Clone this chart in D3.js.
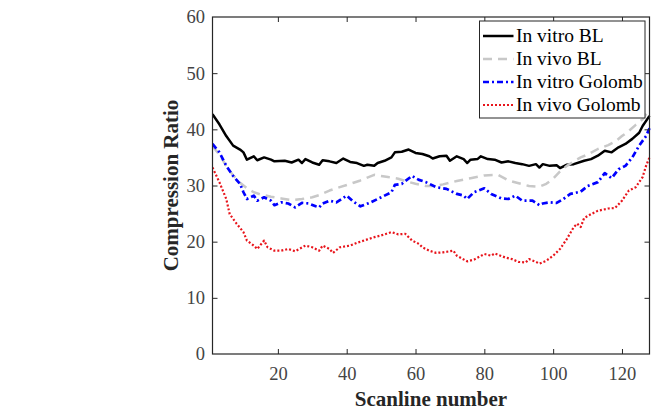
<!DOCTYPE html>
<html>
<head>
<meta charset="utf-8">
<script src="https://cdn.jsdelivr.net/npm/d3@7"></script>
<style>
  html, body { margin: 0; padding: 0; background: #fff; }
  svg { display: block; }
</style>
</head>
<body>
<svg id="chart" width="657" height="418"></svg>
<script>
// ---------- data ----------
const seriesNames = ["In vitro BL", "In vivo BL", "In vitro Golomb", "In vivo Golomb"];

const xTicks = [20, 40, 60, 80, 100, 120];
const yTicks = [0, 10, 20, 30, 40, 50, 60];

const vitroBLScan = [1,3,5,7,9,10,11,13,14,16,18,19,22,24,26,27,28,30,32,33,35,37,39,41,43,45,46,48,49,51,53,54,56,58,60,62,64,65,67,69,70,72,74,75,76,78,79,81,83,85,87,89,91,93,95,96,97,99,101,102,104,106,109,111,113,115,117,119,121,123,125,126,128];
const vitroBLVal  = [42.7,40.9,38.8,37.1,36.4,35.9,34.6,35.2,34.5,35.0,34.6,34.3,34.4,34.1,34.6,34.0,34.7,34.1,33.7,34.5,34.3,34.0,34.8,34.2,34.0,33.5,33.7,33.5,34.0,34.4,35.0,35.9,36.0,36.4,35.8,35.6,35.2,34.8,35.2,35.3,34.4,35.2,34.7,34.0,34.6,34.7,35.2,34.7,34.6,34.1,34.3,34.0,33.8,33.5,33.8,33.2,33.8,33.5,33.6,33.1,33.7,33.8,34.4,34.7,35.3,36.2,35.9,36.8,37.4,38.3,39.4,40.6,42.4];

const vivoBLScan = [1,3,5,7,9,11,13,15,18,21,24,27,30,32,35,38,40,42,44,46,48,50,52,55,57,60,63,65,68,72,76,80,84,87,90,93,96,98,100,102,104,106,108,110,113,116,118,120,122,124,126,128];
const vivoBLVal  = [37.0,35.5,33.5,31.8,30.5,29.5,28.8,28.4,28.0,27.7,27.4,27.6,27.9,28.3,29.1,29.7,30.1,30.5,30.9,31.4,31.9,31.7,31.5,31.2,30.8,30.3,29.9,29.9,30.2,30.8,31.3,31.8,31.9,30.9,30.4,29.9,29.8,30.3,31.2,32.5,33.5,34.3,35.0,35.5,36.5,37.2,37.8,38.8,39.7,40.8,41.8,43.6];

const vitroGolScan = [1,3,5,7,9,10,11,13,14,16,18,19,21,23,25,27,29,31,32,33,35,37,40,42,44,47,49,51,53,54,56,59,61,63,66,69,72,74,75,77,80,82,85,87,89,91,94,96,97,99,101,103,105,108,110,113,115,117,119,121,123,125,127,128];
const vitroGolVal  = [37.4,35.9,33.5,31.7,30.3,28.8,27.6,28.2,27.3,27.9,27.3,26.5,27.0,26.8,26.1,26.9,26.8,26.3,26.1,26.8,27.3,27.0,28.2,27.1,26.3,27.0,27.6,28.2,28.8,30.1,30.3,31.7,31.0,30.6,29.7,29.4,28.5,28.2,27.6,28.8,29.5,28.5,27.7,27.6,28.2,27.3,27.3,26.5,26.8,27.0,26.9,27.6,28.5,28.9,29.9,30.6,32.2,31.3,32.9,33.5,35.0,37.1,38.8,40.2];

const vivoGolScan = [1,3,5,6,8,10,11,13,14,16,17,19,21,23,25,28,30,32,33,35,36,38,41,43,46,48,50,53,55,57,59,61,62,64,66,68,71,72,75,77,80,82,83,86,88,90,92,93,95,96,98,100,102,104,106,107,108,109,111,113,116,118,120,122,124,126,127,128];
const vivoGolVal  = [33.2,30.6,27.6,24.9,23.2,21.7,20.2,19.3,18.7,20.2,19.0,18.4,18.4,18.7,18.3,19.3,19.0,18.4,19.3,18.7,18.0,19.0,19.3,19.8,20.4,20.8,21.1,21.7,21.3,21.4,20.2,19.6,19.0,18.4,18.0,18.1,18.4,17.5,16.5,16.8,17.8,17.5,17.9,17.2,16.9,16.4,16.3,16.9,16.4,16.1,16.6,17.5,18.7,20.5,22.6,23.2,22.6,24.2,24.9,25.5,25.9,26.0,27.3,29.1,29.7,31.5,33.5,35.0];

// ---------- styles ----------
const styles = [
  { color: "#000000", width: 2.5, dash: null },
  { color: "#c8c8c8", width: 2.5, dash: "9,6" },
  { color: "#0000ff", width: 2.7, dash: "6,3,2,3" },
  { color: "#e8141b", width: 2.2, dash: "2,2" }
];

const seriesData = [
  d3.zip(vitroBLScan, vitroBLVal),
  d3.zip(vivoBLScan, vivoBLVal),
  d3.zip(vitroGolScan, vitroGolVal),
  d3.zip(vivoGolScan, vivoGolVal)
];

const svg = d3.select("#chart");
const mLeft = 212.5, mRight = 649.5, mTop = 17, mBottom = 354;

const x = d3.scaleLinear().domain([1, 128]).range([mLeft, mRight]);
const y = d3.scaleLinear().domain([0, 60]).range([mBottom, mTop]);

const serif = "'Liberation Serif', 'Times New Roman', serif";

// clip
svg.append("clipPath").attr("id", "clip")
  .append("rect").attr("x", mLeft).attr("y", mTop - 3)
  .attr("width", mRight - mLeft + 2).attr("height", mBottom - mTop + 3);

// lines
const line = d3.line().x(d => x(d[0])).y(d => y(d[1]));
const gLines = svg.append("g").attr("clip-path", "url(#clip)");
seriesData.forEach((data, i) => {
  const st = styles[i];
  gLines.append("path")
    .datum(data)
    .attr("d", line)
    .attr("fill", "none")
    .attr("stroke", st.color)
    .attr("stroke-width", st.width)
    .attr("stroke-linejoin", "round")
    .attr("stroke-dasharray", st.dash);
});

// axes
const axisColor = "#262626";
const labelColor = "#444444";

const gx = svg.append("g").attr("transform", `translate(0,${mBottom})`)
  .call(d3.axisBottom(x).tickValues(xTicks).tickSizeInner(-5).tickSizeOuter(0).tickPadding(13));
const gy = svg.append("g").attr("transform", `translate(${mLeft},0)`)
  .call(d3.axisLeft(y).tickValues(yTicks).tickSizeInner(-5).tickSizeOuter(0).tickPadding(7.5));
const gxt = svg.append("g").attr("transform", `translate(0,${mTop})`)
  .call(d3.axisTop(x).tickValues(xTicks).tickSizeInner(-5).tickSizeOuter(0).tickFormat(""));
const gyr = svg.append("g").attr("transform", `translate(${mRight},0)`)
  .call(d3.axisRight(y).tickValues(yTicks).tickSizeInner(-5).tickSizeOuter(0).tickFormat(""));

[gx, gy, gxt, gyr].forEach(g => {
  g.select(".domain").remove();
  g.selectAll(".tick line").attr("stroke", axisColor).attr("stroke-width", 1);
  g.selectAll(".tick text").attr("fill", labelColor)
    .style("font-family", serif).style("font-size", "18.5px");
});
gyr.selectAll(".tick").filter(d => d === 0 || d === 60).select("line").remove();
gy.selectAll(".tick").filter(d => d === 0 || d === 60).select("line").remove();

// box
svg.append("rect").attr("x", mLeft).attr("y", mTop)
  .attr("width", mRight - mLeft).attr("height", mBottom - mTop)
  .attr("fill", "none").attr("stroke", axisColor).attr("stroke-width", 1.2);

// axis titles
svg.append("text")
  .attr("x", (mLeft + mRight) / 2).attr("y", 406)
  .attr("text-anchor", "middle")
  .style("font-family", serif).style("font-weight", "bold").style("font-size", "21px")
  .attr("fill", "#262626")
  .text("Scanline number");

svg.append("text")
  .attr("transform", `translate(178,${(mTop + mBottom) / 2}) rotate(-90)`)
  .attr("text-anchor", "middle")
  .style("font-family", serif).style("font-weight", "bold").style("font-size", "21px")
  .attr("fill", "#262626")
  .text("Compression Ratio");

// legend
const lg = svg.append("g");
lg.append("rect").attr("x", 479.5).attr("y", 21)
  .attr("width", 165.5).attr("height", 97)
  .attr("fill", "#fff").attr("stroke", axisColor).attr("stroke-width", 1);
seriesNames.forEach((name, i) => {
  const st = styles[i];
  const cy = 36 + i * 23;
  lg.append("line").attr("x1", 483).attr("x2", 513.5)
    .attr("y1", cy).attr("y2", cy)
    .attr("stroke", st.color).attr("stroke-width", st.width)
    .attr("stroke-dasharray", st.dash);
  lg.append("text").attr("x", 516).attr("y", cy).attr("dy", "0.33em")
    .style("font-family", serif).style("font-size", "19.5px")
    .attr("fill", "#000")
    .text(name);
});
</script>
</body>
</html>
